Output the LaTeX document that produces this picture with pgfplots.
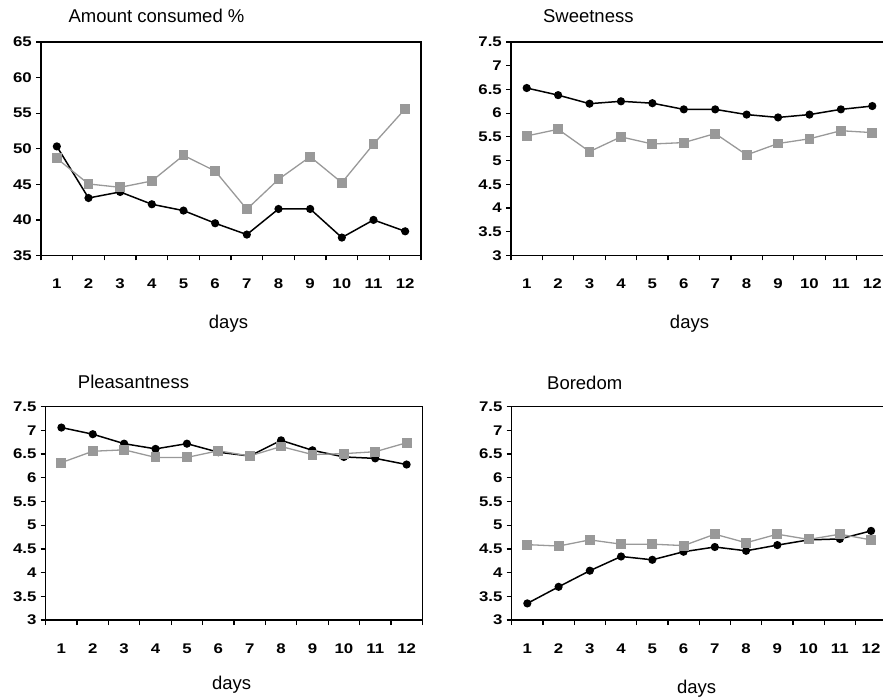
\documentclass[border=0pt]{standalone}
\usepackage{pgfplots}
\pgfplotsset{compat=1.18}
\usepackage{pgfplotstable}
\usepackage{fontspec}
\setmainfont{Liberation Sans}
\newfontfamily\tickfont[FakeStretch=1.2]{Liberation Sans}

\definecolor{sqgray}{RGB}{153,153,153}

% day, black circles, grey squares
\pgfplotstableread{
day blk gry
1  50.33 48.64
2  43.08 45.05
3  43.93 44.58
4  42.20 45.47
5  41.31 49.07
6  39.53 46.87
7  37.94 41.50
8  41.54 45.70
9  41.54 48.88
10 37.52 45.23
11 40.00 50.65
12 38.40 55.61
}\amount

\pgfplotstableread{
day blk gry
1  6.53 5.52
2  6.38 5.66
3  6.20 5.19
4  6.25 5.50
5  6.21 5.35
6  6.08 5.38
7  6.08 5.57
8  5.97 5.12
9  5.91 5.36
10 5.97 5.46
11 6.08 5.63
12 6.15 5.59
}\sweet

\pgfplotstableread{
day blk gry
1  7.06 6.32
2  6.92 6.56
3  6.72 6.59
4  6.61 6.43
5  6.72 6.43
6  6.54 6.57
7  6.46 6.46
8  6.79 6.66
9  6.58 6.49
10 6.44 6.51
11 6.41 6.55
12 6.28 6.74
}\pleasant

\pgfplotstableread{
day blk gry
1  3.35 4.59
2  3.70 4.56
3  4.04 4.69
4  4.34 4.60
5  4.27 4.60
6  4.44 4.57
7  4.54 4.81
8  4.46 4.63
9  4.58 4.81
10 4.69 4.70
11 4.71 4.81
12 4.88 4.69
}\boredom

\pgfplotsset{
  panel/.style={
    scale only axis, anchor=south west, clip=false,
    xmin=0.5, xmax=12.5,
    xtick={1,...,12}, minor xtick={0.5,1.5,...,12.5},
    xtick pos=lower, ytick pos=left,
    tick align=outside,
    major tick length=5pt, minor tick length=5pt,
    major x tick style={draw=none},
    tick style={line width=1.2pt, black},
    axis line style={line width=1.4pt},
    /pgf/number format/assume math mode=true,
    xticklabel={\pgfmathprintnumber{\tick}},
    yticklabel={\pgfmathprintnumber{\tick}},
    tick label style={font=\tickfont\bfseries\fontsize{14}{14}\selectfont},
    xticklabel style={anchor=base, yshift=-28pt},
    yticklabel style={anchor=east, inner sep=0pt, xshift=-4pt},
  },
  rating/.style={ymin=3, ymax=7.5, ytick={3,3.5,...,7.5}},
  blk/.style={black, line width=1.5pt, mark=*, mark size=3.3pt},
  gry/.style={sqgray, line width=1.3pt, mark=square*, mark size=4.3pt},
}

\begin{document}
\begin{tikzpicture}
\tikzset{ttl/.style={anchor=base, inner sep=0pt, font=\fontsize{18.5}{18.5}\selectfont}}

% top left
\begin{axis}[panel, at={(41pt,443.5pt)}, width=380pt, height=213.5pt,
  ymin=35, ymax=65, ytick={35,40,...,65}]
  \addplot[blk] table[x=day, y=blk] {\amount};
  \addplot[gry] table[x=day, y=gry] {\amount};
\end{axis}

% top right
\begin{axis}[panel, rating, at={(511pt,443.5pt)}, width=377pt, height=213.5pt]
  \addplot[blk] table[x=day, y=blk] {\sweet};
  \addplot[gry] table[x=day, y=gry] {\sweet};
\end{axis}

% bottom left
\begin{axis}[panel, rating, at={(45.7pt,79pt)}, width=376.6pt, height=213.3pt]
  \addplot[blk] table[x=day, y=blk] {\pleasant};
  \addplot[gry] table[x=day, y=gry] {\pleasant};
\end{axis}

% bottom right
\begin{axis}[panel, rating, at={(511.7pt,79pt)}, width=375pt, height=213.3pt]
  \addplot[blk] table[x=day, y=blk] {\boredom};
  \addplot[gry] table[x=day, y=gry] {\boredom};
\end{axis}

\node[ttl] at (156.5pt,676.5pt) {Amount consumed \%};
\node[ttl] at (588.3pt,676.5pt) {Sweetness};
\node[ttl] at (133.5pt,310.7pt) {Pleasantness};
\node[ttl] at (584.7pt,309pt) {Boredom};

\node[ttl] at (228.5pt,370pt) {days};
\node[ttl] at (689.5pt,370pt) {days};
\node[ttl] at (231.7pt,10pt) {days};
\node[ttl] at (696.7pt,6pt) {days};

\pgfresetboundingbox
\useasboundingbox (0pt,0pt) rectangle (883pt,699pt);
\end{tikzpicture}
\end{document}
